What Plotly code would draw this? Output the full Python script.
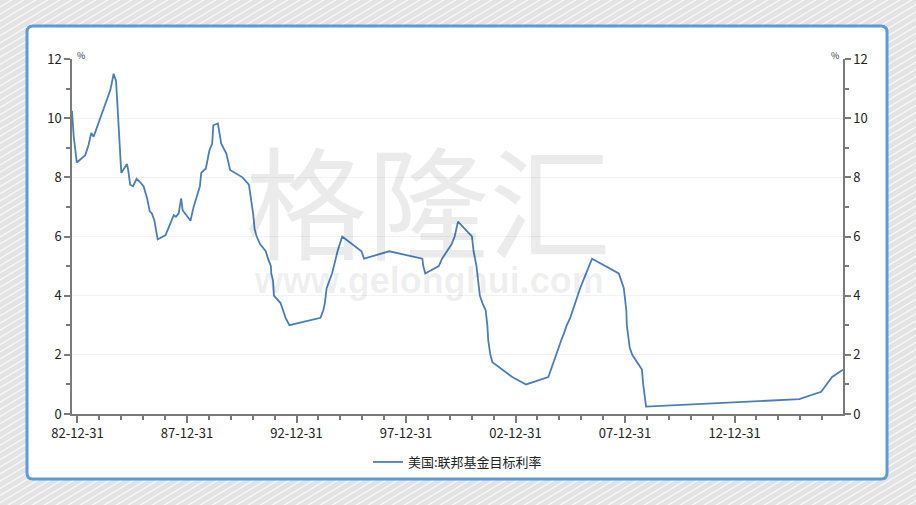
import plotly.graph_objects as go

# ----------------------------------- Data -----------------------------------

dates = [
    "1982-10-01", "1982-10-29", "1982-12-20",
    "1983-05-10", "1983-07-05", "1983-08-18", "1983-09-27",
    "1984-07-01", "1984-08-25", "1984-10-05", "1984-12-31",
    "1985-04-04", "1985-04-25", "1985-05-28", "1985-07-15", "1985-09-12", "1985-11-05",
    "1986-01-06", "1986-03-05", "1986-04-20", "1986-05-25", "1986-07-05", "1986-08-30",
    "1987-01-08", "1987-05-25", "1987-06-30", "1987-08-15", "1987-09-25", "1987-10-20", "1987-12-25",
    "1988-02-28", "1988-04-20", "1988-08-03", "1988-08-25", "1988-11-10",
    "1989-01-10", "1989-02-24", "1989-03-15", "1989-05-30", "1989-07-25", "1989-10-18", "1989-12-20",
    "1990-07-13", "1990-10-29", "1990-12-07", "1990-12-19",
    "1991-01-09", "1991-02-01", "1991-03-08", "1991-04-30", "1991-08-06", "1991-09-13",
    "1991-10-31", "1991-11-06", "1991-12-06", "1991-12-20",
    "1992-04-09", "1992-07-02", "1992-09-04",
    "1994-02-04", "1994-03-22", "1994-04-18", "1994-05-17", "1994-08-16", "1994-11-15",
    "1995-02-01", "1995-07-06", "1995-12-19", "1996-01-31", "1997-03-25",
    "1998-09-29", "1998-10-15", "1998-11-17",
    "1999-06-30", "1999-08-24", "1999-11-16",
    "2000-02-02", "2000-03-21", "2000-05-16",
    "2001-01-03", "2001-01-31", "2001-03-20", "2001-04-18", "2001-05-15", "2001-06-27",
    "2001-08-21", "2001-09-17", "2001-10-02", "2001-11-06", "2001-12-11",
    "2002-11-06", "2003-06-25",
    "2004-06-30", "2004-08-10", "2004-09-21", "2004-11-10", "2004-12-14",
    "2005-02-02", "2005-03-22", "2005-05-03", "2005-06-30", "2005-08-09", "2005-09-20",
    "2005-11-01", "2005-12-13",
    "2006-01-31", "2006-03-28", "2006-05-10", "2006-06-29",
    "2007-09-18", "2007-10-31", "2007-12-11",
    "2008-01-22", "2008-01-30", "2008-03-18", "2008-04-30", "2008-10-08", "2008-10-29", "2008-12-16",
    "2015-12-16", "2016-12-14", "2017-03-15", "2017-06-14", "2017-12-13",
]

rates = [
    10.25, 9.4, 8.5,
    8.75, 9.1, 9.5, 9.375,
    10.95, 11.5, 11.25, 8.15,
    8.45, 8.25, 7.75, 7.7, 7.95, 7.85,
    7.7, 7.3, 6.85, 6.78, 6.55, 5.9,
    6.05, 6.72, 6.67, 6.78, 7.29, 6.89, 6.72,
    6.53, 7.0, 7.7, 8.15, 8.3,
    8.92, 9.14, 9.76, 9.82, 9.14, 8.8, 8.25,
    8.0, 7.75, 7.25, 7.0,
    6.75, 6.25, 6.0, 5.75, 5.5, 5.25,
    5.0, 4.75, 4.5, 4.0,
    3.75, 3.25, 3.0,
    3.25, 3.5, 3.75, 4.25, 4.75, 5.5,
    6.0, 5.75, 5.5, 5.25, 5.5,
    5.25, 5.0, 4.75,
    5.0, 5.25, 5.5,
    5.75, 6.0, 6.5,
    6.0, 5.5, 5.0, 4.5, 4.0, 3.75,
    3.5, 3.0, 2.5, 2.0, 1.75,
    1.25, 1.0,
    1.25, 1.5, 1.75, 2.0, 2.25,
    2.5, 2.75, 3.0, 3.25, 3.5, 3.75,
    4.0, 4.25,
    4.5, 4.75, 5.0, 5.25,
    4.75, 4.5, 4.25,
    3.5, 3.0, 2.25, 2.0, 1.5, 1.0, 0.25,
    0.5, 0.75, 1.0, 1.25, 1.5,
]

series_name = "美国:联邦基金目标利率"

x_tick_vals = ["1982-12-31", "1987-12-31", "1992-12-31", "1997-12-31",
               "2002-12-31", "2007-12-31", "2012-12-31"]
x_tick_text = ["82-12-31", "87-12-31", "92-12-31", "97-12-31",
               "02-12-31", "07-12-31", "12-12-31"]
x_minor_vals = ["%d-12-31" % y for y in range(1983, 2017)]

y_tick_vals = [0, 2, 4, 6, 8, 10, 12]
y_minor_vals = [1, 3, 5, 7, 9, 11]

# ----------------------------------- Layout helpers -----------------------------------

W, H = 916, 505
ML, MR, MT, MB = 72, 73, 59, 91
PW, PH = W - ML - MR, H - MT - MB


def fx(px):
    return (px - ML) / PW


def fy(py):
    return (H - MB - py) / PH


FONT = "Noto Sans CJK SC, Noto Sans, sans-serif"
AXIS_COL = "#7a7a7a"

shapes = []

# striped grey background
x0 = -900
while x0 < W + 20:
    shapes.append(dict(
        type="line", xref="paper", yref="paper", layer="below",
        x0=fx(x0), y0=fy(H + 5), x1=fx(x0 + 860), y1=fy(-5),
        line=dict(color="rgba(255,255,255,0.75)", width=1.3),
    ))
    x0 += 12

# white rounded panel with blue border
L, T, R, B, r = 27, 26, 887, 479, 6
path = (
    f"M {fx(L + r)},{fy(T)} L {fx(R - r)},{fy(T)} Q {fx(R)},{fy(T)} {fx(R)},{fy(T + r)} "
    f"L {fx(R)},{fy(B - r)} Q {fx(R)},{fy(B)} {fx(R - r)},{fy(B)} "
    f"L {fx(L + r)},{fy(B)} Q {fx(L)},{fy(B)} {fx(L)},{fy(B - r)} "
    f"L {fx(L)},{fy(T + r)} Q {fx(L)},{fy(T)} {fx(L + r)},{fy(T)} Z"
)
shapes.append(dict(
    type="path", path=path, xref="paper", yref="paper", layer="below",
    fillcolor="white", line=dict(color="#5d9ad8", width=3),
))

annotations = [
    dict(text="格隆汇", xref="paper", yref="paper", x=fx(428), y=fy(196),
         showarrow=False, font=dict(family=FONT, size=122, color="rgba(0,0,0,0.08)")),
    dict(text="<b>www.gelonghui.com</b>", xref="paper", yref="paper", x=fx(429), y=fy(303),
         showarrow=False, font=dict(family="Liberation Sans, Arial", size=36, color="rgba(0,0,0,0.08)")),
    dict(text="%", xref="paper", yref="paper", x=fx(75), y=fy(55), xanchor="left", yanchor="middle",
         showarrow=False, font=dict(family=FONT, size=9, color="#333")),
    dict(text="%", xref="paper", yref="paper", x=fx(841), y=fy(55), xanchor="right", yanchor="middle",
         showarrow=False, font=dict(family=FONT, size=9, color="#333")),
]

# ----------------------------------- Figure -----------------------------------

fig = go.Figure()
fig.add_trace(go.Scatter(
    x=dates, y=rates, mode="lines", name=series_name,
    line=dict(color="#4a7ebb", width=1.8),
))
# same series on the right-hand axis, invisible, so that axis gets drawn
fig.add_trace(go.Scatter(
    x=dates, y=rates, mode="lines", yaxis="y2", showlegend=False, hoverinfo="skip",
    line=dict(color="rgba(0,0,0,0)", width=0),
))

y_axis_common = dict(
    range=[0, 12], tickvals=y_tick_vals, showline=True, linecolor=AXIS_COL, linewidth=1.5,
    ticks="outside", ticklen=6, tickwidth=1.5, tickcolor=AXIS_COL,
    minor=dict(tickvals=y_minor_vals, ticks="outside", ticklen=4, tickwidth=1.5, tickcolor=AXIS_COL),
    tickfont=dict(family=FONT, size=13, color="#222"), zeroline=False, fixedrange=True,
)

fig.update_layout(
    width=W, height=H,
    margin=dict(l=ML, r=MR, t=MT, b=MB),
    paper_bgcolor="#e3e3e3",
    plot_bgcolor="rgba(0,0,0,0)",
    shapes=shapes,
    annotations=annotations,
    showlegend=True,
    legend=dict(orientation="h", x=0.5, xanchor="center", y=fy(462), yanchor="middle",
                font=dict(family=FONT, size=13, color="#222"), bgcolor="rgba(0,0,0,0)"),
    xaxis=dict(
        type="date", range=["1982-10-01", "2017-12-13"],
        tickvals=x_tick_vals, ticktext=x_tick_text,
        showline=True, linecolor=AXIS_COL, linewidth=1.5,
        ticks="outside", ticklen=7, tickwidth=1.5, tickcolor=AXIS_COL,
        minor=dict(tickvals=x_minor_vals, ticks="outside", ticklen=4, tickwidth=1.5, tickcolor=AXIS_COL),
        showgrid=False, tickfont=dict(family=FONT, size=13, color="#222"),
    ),
    yaxis=dict(**y_axis_common, side="left", showgrid=True, gridcolor="#f2f2f2"),
    yaxis2=dict(**y_axis_common, side="right", overlaying="y", anchor="x", showgrid=False),
)

fig.write_html("out.html", config={"displayModeBar": False},
               post_script="document.body.style.margin='0';")
